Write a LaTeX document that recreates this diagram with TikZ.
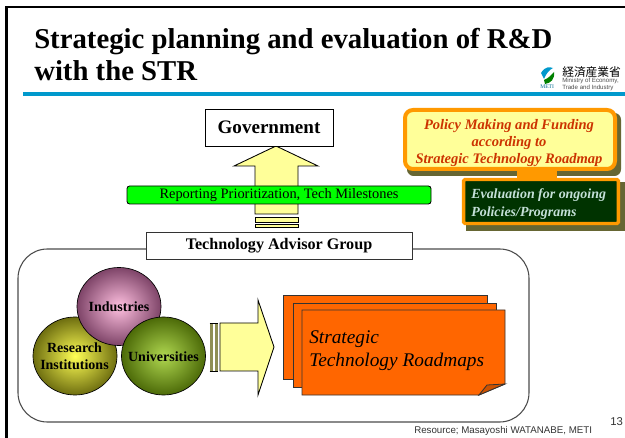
\documentclass[tikz,border=0pt]{standalone}
\usepackage{fontspec}
\setmainfont{Liberation Serif}
\newfontfamily\arialf{Liberation Sans}
\newfontfamily\cjkf{Noto Sans CJK JP}
\definecolor{rulecol}{HTML}{0099CC}
\definecolor{paleyel}{HTML}{FFFF99}
\definecolor{orangeA}{HTML}{FF9900}
\definecolor{shadowol}{HTML}{666633}
\definecolor{redtx}{HTML}{CC3300}
\definecolor{dkgreen}{HTML}{003300}
\definecolor{paletx}{HTML}{C4E0D8}
\definecolor{cardor}{HTML}{FF6600}
\definecolor{foldor}{HTML}{CC5200}
\definecolor{stripeol}{HTML}{8F8F55}
\definecolor{resin}{HTML}{FFFF55}
\definecolor{resout}{HTML}{6E6E10}
\definecolor{indin}{HTML}{FFC0E0}
\definecolor{indout}{HTML}{7E4468}
\definecolor{uniin}{HTML}{B0D850}
\definecolor{uniout}{HTML}{4C6A08}
\tikzset{
  x=0.75pt,y=-0.75pt,
  pxbox/.style={draw=black,fill=white,line width=0.65pt,inner sep=0pt,anchor=center},
  ballshape/.style={draw=black,line width=0.5pt,shade,inner color=#1in,outer color=#1out},
  balltext/.style={inner sep=0pt,align=center,font=\fontsize{10.5pt}{12.5pt}\selectfont\bfseries},
  card/.style={draw=black!80,fill=cardor,line width=0.7pt},
  yarrow/.style={draw=black,fill=paleyel,line width=0.65pt},
}
\begin{document}
\begin{tikzpicture}
\useasboundingbox (0,0) rectangle (625,438);
\fill[white] (0,0) rectangle (625,438);
% slide frame
\draw[line width=1.6pt,black] (6.5,438) -- (6.5,7) -- (625,7);
% title
\node[anchor=base west,inner sep=0pt,font=\fontsize{21.55pt}{24pt}\selectfont\bfseries] (t1) at (34,49) {Strategic planning and evaluation of R\&D};
\node[anchor=base west,inner sep=0pt,font=\fontsize{21.55pt}{24pt}\selectfont\bfseries] (t2) at (34,81) {with the STR};
\fill[rulecol] (23,92) rectangle (625,96);
% logo
\fill[rulecol] (541,73) .. controls (545,66) and (550,67) .. (553,68) .. controls (549,70) and (546,74) .. (544,79) -- cycle;
\fill[green!50!black] (544,80) .. controls (549,78) and (551,75) .. (554,72) .. controls (555,79) and (551,83) .. (545,84) -- cycle;
\node[anchor=base west,inner sep=0pt,text=rulecol!70!black,font=\fontsize{4.2pt}{5pt}\selectfont] (lm) at (540,89) {METI};
\node[anchor=base west,inner sep=0pt,font=\cjkf\fontsize{8.8pt}{10pt}\selectfont] (lj) at (562,76.5) {経済産業省};
\node[anchor=north west,inner sep=0pt,align=left,text=black!70,font=\arialf\fontsize{4.6pt}{5pt}\selectfont] (le) at (562,78) {Ministry of Economy,\\Trade and Industry};
% big rounded frame
\draw[black!70,line width=0.8pt,rounded corners=22pt] (18,249) rectangle (529,422);
% up arrow
\draw[yarrow] (255,214) -- (255,166) -- (234,166) -- (276,146) -- (318,166) -- (298,166) -- (298,214) -- cycle;
\draw[yarrow] (255,217) rectangle (298,222);
\draw[yarrow] (255,224.5) rectangle (298,227.5);
% government
\node[pxbox,minimum width=96pt,minimum height=27.75pt,font=\fontsize{14.3pt}{16pt}\selectfont\bfseries] (gov) at (269,127.5) {Government};
% green bar
\node[draw=black,fill=green,rounded corners=2pt,line width=0.65pt,minimum width=228pt,minimum height=13.5pt,inner sep=0pt,font=\fontsize{10.8pt}{13pt}\selectfont] (rep) at (279,195) {Reporting Prioritization, Tech Milestones};
% TAG
\node[pxbox,draw=black!80,minimum width=199.5pt,minimum height=20.25pt,font=\fontsize{12.1pt}{13pt}\selectfont\bfseries] (tag) at (279,245.5) {Technology Advisor Group};
% balls
\path[ballshape=res] (75,356) ellipse [x radius=42,y radius=39];
\node[balltext] (res) at (74.5,356.5) {Research\\Institutions};
\path[ballshape=ind] (119,306.5) ellipse [x radius=42,y radius=39];
\node[balltext] (ind) at (119,307) {Industries};
\path[ballshape=uni] (163.5,356) ellipse [x radius=42,y radius=39];
\node[balltext] (uni) at (163.5,357) {Universities};
% right arrow
\fill[stripeol] (209.5,323.5) rectangle (213,371);
\fill[stripeol] (214.5,323.5) rectangle (218,371);
\draw[black,line width=0.6pt] (209.5,323.5) -- (218,323.5) (209.5,371) -- (218,371);
\draw[yarrow] (220,323) -- (258,323) -- (258,300) -- (274,347) -- (258,395) -- (258,371) -- (220,371) -- cycle;
% cards
\draw[card] (283,295) rectangle (487,379);
\draw[card] (293,303) rectangle (496,387);
\draw[card] (302,310) -- (505,310) -- (505,384) -- (479,395) -- (302,395) -- cycle;
\draw[black!80,fill=foldor,line width=0.6pt] (479,395) -- (487,385) -- (505,384) -- cycle;
\node[anchor=base west,inner sep=0pt,font=\fontsize{14.5pt}{16pt}\selectfont\itshape] (s1) at (309,344) {Strategic};
\node[anchor=base west,inner sep=0pt,font=\fontsize{14.5pt}{16pt}\selectfont\itshape] (s2) at (309,367) {Technology Roadmaps};
% policy boxes
\fill[shadowol,rounded corners=5pt] (407,113) rectangle (621,176);
\fill[orangeA] (517,168) rectangle (557,180);
\node[draw=orangeA,fill=paleyel,rounded corners=6pt,line width=3pt,minimum width=157.5pt,minimum height=44.25pt,inner sep=0pt] (polbox) at (510,139.5) {};
\node[inner sep=0pt,align=center,text=redtx,font=\fontsize{10.9pt}{12.75pt}\selectfont\bfseries\itshape] (pol) at (509,143) {Policy Making and Funding\\according to\\Strategic Technology Roadmap};
\fill[shadowol] (466,182) rectangle (625,231);
\node[draw=orangeA,fill=dkgreen,line width=2.6pt,rounded corners=1pt,minimum width=116pt,minimum height=33pt,inner sep=0pt] (evabox) at (541,201.5) {};
\node[inner sep=0pt,text=paletx,align=left,anchor=west,font=\fontsize{10.45pt}{13.4pt}\selectfont\bfseries\itshape] (eva) at (471,204.5) {Evaluation for ongoing\\Policies/Programs};
% footer
\node[anchor=base west,inner sep=0pt,font=\arialf\fontsize{7.3pt}{9pt}\selectfont,text=black!80] (src) at (414,433) {Resource; Masayoshi WATANABE, METI};
\node[anchor=base west,inner sep=0pt,font=\arialf\fontsize{8.5pt}{10pt}\selectfont,text=black!80] (pg) at (610,426) {13};
\end{tikzpicture}
\end{document}
